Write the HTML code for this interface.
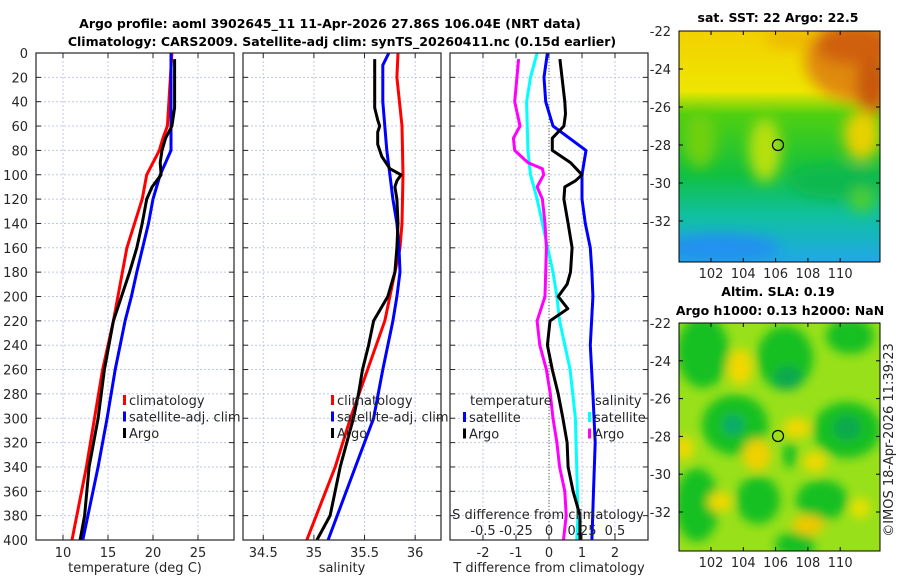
<!DOCTYPE html>
<html><head><meta charset="utf-8">
<style>
html,body{margin:0;padding:0;background:#fff;}
svg{display:block;font-family:"DejaVu Sans","Liberation Sans",sans-serif;}
.t{font-size:13px;fill:#262626;}
.b{font-size:12.5px;font-weight:bold;fill:#000;}
</style></head>
<body>
<svg id="chart" width="900" height="580" viewBox="0 0 900 580" xmlns="http://www.w3.org/2000/svg">
<defs>
<filter id="blur6" x="-20%" y="-20%" width="140%" height="140%"><feGaussianBlur stdDeviation="7"/></filter>
<filter id="blur4" x="-20%" y="-20%" width="140%" height="140%"><feGaussianBlur stdDeviation="5"/></filter>
<clipPath id="clipA"><rect x="679" y="31" width="201" height="231"/></clipPath>
<clipPath id="clipB"><rect x="679" y="323" width="201" height="228"/></clipPath>
<linearGradient id="sstGrad" x1="0" y1="0" x2="0" y2="1">
<stop offset="0" stop-color="#f2d000"/><stop offset="0.26" stop-color="#eee600"/>
<stop offset="0.36" stop-color="#50d010"/><stop offset="0.62" stop-color="#10c040"/>
<stop offset="0.8" stop-color="#10c0a0"/><stop offset="1" stop-color="#20a8e8"/>
</linearGradient>
</defs>
<text class="b" x="330" y="28" text-anchor="middle">Argo profile: aoml 3902645_11 11-Apr-2026 27.86S 106.04E (NRT data)</text>
<text class="b" x="342" y="46" text-anchor="middle">Climatology: CARS2009. Satellite-adj clim: synTS_20260411.nc (0.15d earlier)</text>
<g id="panels"></g>
<g id="maps">
 <text class="b" x="778" y="22" text-anchor="middle">sat. SST: 22 Argo: 22.5</text>
 <g clip-path="url(#clipA)">
  <rect x="679" y="31" width="201" height="231" fill="url(#sstGrad)"/>
  <g filter="url(#blur6)">
   <ellipse cx="860" cy="60" rx="55" ry="42" fill="#e08a10"/>
   <ellipse cx="855" cy="45" rx="40" ry="20" fill="#d06010"/>
   <ellipse cx="872" cy="85" rx="16" ry="30" fill="#c85810"/>
   <ellipse cx="790" cy="38" rx="25" ry="10" fill="#eeb800"/>
   <ellipse cx="862" cy="135" rx="18" ry="25" fill="#e8d000"/>
   <ellipse cx="765" cy="150" rx="16" ry="32" fill="#b8e010"/>
   <ellipse cx="700" cy="140" rx="16" ry="28" fill="#70d010"/>
   <ellipse cx="840" cy="182" rx="50" ry="16" fill="#10b850"/>
   <ellipse cx="720" cy="248" rx="60" ry="14" fill="#2090f0"/>
   <ellipse cx="862" cy="200" rx="12" ry="12" fill="#50d030"/>
  </g>
 </g>
 <rect x="679" y="31" width="201" height="231" fill="none" stroke="#000" stroke-width="1"/>
 <circle cx="778" cy="145" r="5.5" fill="none" stroke="#000" stroke-width="1.2"/>
 <text class="b" x="778" y="296" text-anchor="middle">Altim. SLA: 0.19</text>
 <text class="b" x="780" y="315" text-anchor="middle">Argo h1000: 0.13 h2000: NaN</text>
 <g clip-path="url(#clipB)">
  <rect x="679" y="323" width="201" height="228" fill="#98e01a"/>
  <g filter="url(#blur4)">
   <ellipse cx="703" cy="352" rx="26" ry="36" fill="#18c020"/>
   <ellipse cx="785" cy="358" rx="28" ry="32" fill="#18c020"/>
   <ellipse cx="788" cy="378" rx="14" ry="12" fill="#10a850"/>
   <ellipse cx="850" cy="336" rx="24" ry="18" fill="#18c020"/>
   <ellipse cx="735" cy="425" rx="33" ry="30" fill="#18c020"/>
   <ellipse cx="733" cy="425" rx="10" ry="10" fill="#10a870"/>
   <ellipse cx="847" cy="430" rx="34" ry="28" fill="#18c020"/>
   <ellipse cx="847" cy="428" rx="14" ry="12" fill="#10a850"/>
   <ellipse cx="697" cy="505" rx="22" ry="37" fill="#18c020"/>
   <ellipse cx="758" cy="500" rx="22" ry="24" fill="#18c020"/>
   <ellipse cx="822" cy="500" rx="26" ry="20" fill="#18c020"/>
   <ellipse cx="795" cy="545" rx="20" ry="13" fill="#18c020"/>
   <ellipse cx="790" cy="455" rx="7" ry="13" fill="#18c020"/>
   <ellipse cx="740" cy="367" rx="13" ry="18" fill="#f0d800"/>
   <ellipse cx="757" cy="455" rx="14" ry="16" fill="#f0d000"/>
   <ellipse cx="797" cy="428" rx="14" ry="10" fill="#f0d800"/>
   <ellipse cx="815" cy="462" rx="12" ry="10" fill="#f0d800"/>
   <ellipse cx="720" cy="502" rx="12" ry="10" fill="#f0d800"/>
   <ellipse cx="808" cy="525" rx="16" ry="10" fill="#f0c800"/>
   <ellipse cx="684" cy="448" rx="10" ry="12" fill="#f0d800"/>
   <ellipse cx="860" cy="508" rx="10" ry="10" fill="#e8e000"/>
  </g>
 </g>
 <rect x="679" y="323" width="201" height="228" fill="none" stroke="#000" stroke-width="1"/>
 <circle cx="778" cy="436" r="5.5" fill="none" stroke="#000" stroke-width="1.2"/>
 <text class="t" transform="translate(893,440) rotate(-90)" text-anchor="middle">©IMOS 18-Apr-2026 11:39:23</text>
</g>
</svg>
<script>
// ---- data ----
const depthTicks=[0,20,40,60,80,100,120,140,160,180,200,220,240,260,280,300,320,340,360,380,400];
const tempTicks=[10,15,20,25];
const salTicks=[34.5,35,35.5,36];
const tdiffTicks=[-2,-1,0,1,2];
const sdiffTicks=[-0.5,-0.25,0,0.25,0.5];
const latTicks=[-22,-24,-26,-28,-30,-32];
const lonTicks=[102,104,106,108,110];

const tClimD=[0,60,70,80,100,120,160,200,220,260,300,340,400];
const tClimV=[22.1,21.6,21.1,20.7,19.3,18.8,17.1,16.1,15.6,14.4,13.5,12.6,11.0];
const tSatD=[0,80,100,120,140,180,200,220,260,300,340,400];
const tSatV=[22.0,22.0,20.8,20.0,19.5,18.2,17.6,16.9,15.8,14.9,13.9,12.2];
const tArgoD=[5,45,60,70,80,90,100,110,120,140,160,180,200,220,260,300,340,380,400];
const tArgoV=[22.4,22.4,22.1,21.4,21.0,20.8,20.9,19.9,19.3,18.8,18.2,17.4,16.5,15.6,14.6,13.9,12.9,12.4,11.9];

const sClimD=[0,20,60,100,140,160,200,220,260,300,340,400];
const sClimV=[35.83,35.82,35.87,35.88,35.87,35.85,35.75,35.70,35.53,35.36,35.21,34.93];
const sSatD=[0,10,40,60,80,100,120,140,160,180,200,220,260,300,340,400];
const sSatV=[35.74,35.68,35.68,35.70,35.72,35.75,35.78,35.82,35.84,35.85,35.82,35.78,35.68,35.59,35.41,35.14];
const sArgoD=[5,45,55,60,65,75,85,95,100,105,110,120,140,160,180,200,220,240,260,280,300,340,380,400];
const sArgoV=[35.60,35.60,35.63,35.65,35.63,35.63,35.67,35.75,35.86,35.82,35.80,35.82,35.83,35.82,35.80,35.73,35.59,35.54,35.48,35.44,35.39,35.26,35.16,35.03];

const dTSatD=[0,20,40,60,80,100,120,140,160,180,200,240,280,320,360,400];
const dTSatV=[-0.05,-0.15,-0.1,0.12,1.12,1.0,1.0,1.1,1.25,1.3,1.33,1.25,1.33,1.4,1.35,1.3];
const dTArgoD=[5,40,50,60,70,80,90,100,105,110,120,140,160,180,190,200,210,220,240,260,280,300,320,340,360,380,400];
const dTArgoV=[0.33,0.48,0.5,0.45,0.1,0.1,0.65,1.0,0.8,0.48,0.45,0.58,0.7,0.65,0.55,0.28,0.57,0.03,-0.05,0.1,0.28,0.42,0.55,0.58,0.73,0.94,0.94];
const dSSatD=[0,20,40,80,100,120,140,160,180,200,220,260,300,340,380,400];
const dSSatV=[-0.09,-0.14,-0.17,-0.16,-0.14,-0.09,-0.05,-0.01,0.03,0.06,0.08,0.16,0.2,0.21,0.22,0.21];
const dSArgoD=[5,40,60,70,80,90,95,100,110,120,140,160,200,220,240,260,280,300,320,340,360,380,400];
const dSArgoV=[-0.23,-0.26,-0.22,-0.27,-0.26,-0.16,-0.05,-0.04,-0.09,-0.05,-0.03,-0.02,-0.03,-0.09,-0.07,-0.02,0.01,0.03,0.06,0.08,0.12,0.13,0.11];

// ---- axes ----
const Y0=53,Y1=540;
const yD=d=>Y0+(Y1-Y0)*d/400;
const xT=t=>36+(t-7)*(198/22);
const xS=s=>243+(s-34.3)*(198/1.955);
const xDT=d=>549+d*33;
const xDS=s=>549+s*132;

const NS='http://www.w3.org/2000/svg';
const root=document.getElementById('panels');
function mk(tag,attrs,parent){const e=document.createElementNS(NS,tag);for(const k in attrs)e.setAttribute(k,attrs[k]);(parent||root).appendChild(e);return e;}
function txt(x,y,s,anchor,parent){const e=mk('text',{x:x,y:y,'text-anchor':anchor||'middle',class:'t'},parent);e.textContent=s;return e;}

function panel(name,left,ticks,xf,xlabel){
  const g=mk('g',{});
  
  
  depthTicks.forEach(d=>{
    if(d>0&&d<400){const l=mk('line',{x1:left,x2:left+198,y1:yD(d),y2:yD(d),stroke:'#c0c8e8','stroke-width':1,'stroke-dasharray':'2,2'},g);
    
    }
    mk('line',{x1:left,x2:left+5,y1:yD(d),y2:yD(d),stroke:'#262626'},g);
    mk('line',{x1:left+198,x2:left+193,y1:yD(d),y2:yD(d),stroke:'#262626'},g);
  });
  ticks.forEach(t=>{
    const x=xf(t);
    const l=mk('line',{x1:x,x2:x,y1:Y0,y2:Y1,stroke:'#c0c8e8','stroke-width':1,'stroke-dasharray':'2,2'},g);
    
    
    mk('line',{x1:x,x2:x,y1:Y1,y2:Y1-5,stroke:'#262626'},g);
    mk('line',{x1:x,x2:x,y1:Y0,y2:Y0+5,stroke:'#262626'},g);
    const tl=txt(x,Y1+17,String(t),'middle',g);
    
    
  });
  const xl=txt(left+99,Y1+32,xlabel,'middle',g);
  
  
  return g;
}
function line(g,D,V,xf,color,name,w){
  const pts=D.map((d,i)=>xf(V[i]).toFixed(1)+','+yD(d).toFixed(1)).join(' ');
  const p=mk('polyline',{points:pts,fill:'none',stroke:color,'stroke-width':w||3,'stroke-linejoin':'round'},g);
  
  
}
function legend(g,x,y,items){
  items.forEach((it,i)=>{
    const yy=y+i*16.5;
    const b=mk('rect',{x:x,y:yy-9,width:3,height:10,fill:it[1]},g);
    
    
    const t=txt(x+6,yy+1,it[0],'start',g);
    
    
  });
}

depthTicks.forEach(d=>{const t=txt(28,yD(d)+5,String(d),'end');

});

const g1=panel('temperature-panel',36,tempTicks,xT,'temperature (deg C)');
line(g1,tClimD,tClimV,xT,'#ff0000','temp-climatology-line');
line(g1,tSatD,tSatV,xT,'#0000ff','temp-satellite-line');
line(g1,tArgoD,tArgoV,xT,'#000000','temp-argo-line');
legend(g1,123,404,[['climatology','#ff0000'],['satellite-adj. clim','#0000ff'],['Argo','#000']]);

const g2=panel('salinity-panel',243,salTicks,xS,'salinity');
line(g2,sClimD,sClimV,xS,'#ff0000','sal-climatology-line');
line(g2,sSatD,sSatV,xS,'#0000ff','sal-satellite-line');
line(g2,sArgoD,sArgoV,xS,'#000000','sal-argo-line');
legend(g2,331,404,[['climatology','#ff0000'],['satellite-adj. clim','#0000ff'],['Argo','#000']]);

const g3=panel('difference-panel',450,tdiffTicks,xDT,'T difference from climatology');
const z=mk('line',{x1:549,x2:549,y1:Y0,y2:Y1,stroke:'#556b2f','stroke-width':1,'stroke-dasharray':'1,2'},g3);


line(g3,dSSatD,dSSatV,xDS,'#00ffff','sdiff-satellite-line');
line(g3,dSArgoD,dSArgoV,xDS,'#ff00ff','sdiff-argo-line');
line(g3,dTSatD,dTSatV,xDT,'#0000ff','tdiff-satellite-line');
line(g3,dTArgoD,dTArgoV,xDT,'#000000','tdiff-argo-line');
const lh1=txt(470,405,'temperature','start',g3);


const lh2=txt(595,405,'salinity','start',g3);


legend(g3,463,421,[['satellite','#0000ff'],['Argo','#000']]);
legend(g3,588,421,[['satellite','#00ffff'],['Argo','#ff00ff']]);
const st=txt(548,519,'S difference from climatology','middle',g3);


sdiffTicks.forEach(s=>{const t=txt(xDS(s),535,String(s),'middle',g3);

});
[36,243,450].forEach(l=>mk('rect',{x:l,y:Y0,width:198,height:Y1-Y0,fill:'none',stroke:'#262626','stroke-width':1.2}));

const maps=document.getElementById('maps');
function mapAxes(top,bottom){
  latTicks.forEach((v,i)=>{
    const y=top+i*(bottom-top)/5;
    mk('line',{x1:679,x2:683,y1:y,y2:y,stroke:'#000'},maps);
    mk('line',{x1:880,x2:876,y1:y,y2:y,stroke:'#000'},maps);
    const t=txt(671,y+5,String(v),'end',maps);
    
    
  });
}
function lonAxes(ybot,ytop,ly){
  lonTicks.forEach((v,i)=>{
    const x=711+i*32.3;
    mk('line',{x1:x,x2:x,y1:ybot,y2:ybot-4,stroke:'#000'},maps);
    mk('line',{x1:x,x2:x,y1:ytop,y2:ytop+4,stroke:'#000'},maps);
    const t=txt(x,ly,String(v),'middle',maps);
    
    
  });
}
mapAxes(31,221);lonAxes(262,31,278);
mapAxes(323,512);lonAxes(551,323,567);
</script>
</body></html>
